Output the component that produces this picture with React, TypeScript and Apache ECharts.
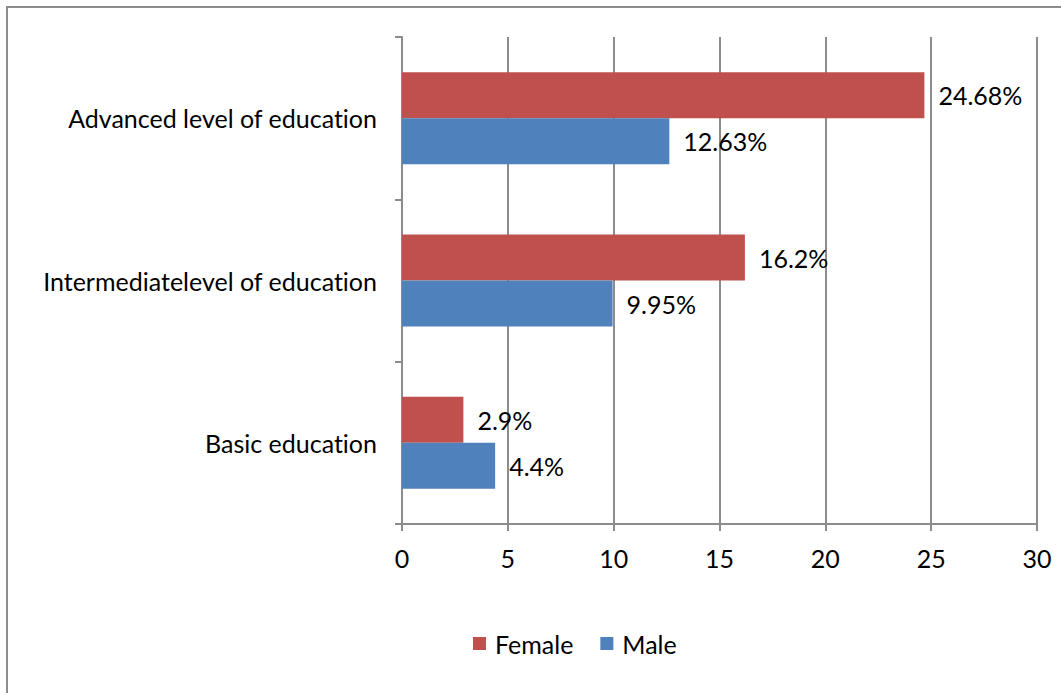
import React, { useEffect, useRef } from "react";
import * as echarts from "echarts";

const categories = ["Basic education", "Intermediatelevel of education", "Advanced level of education"];
const femaleValues = [2.9, 16.2, 24.68];
const maleValues = [4.4, 9.95, 12.63];
const xTicks = { min: 0, max: 30, interval: 5 };

const FONT = "Lato";
const FS = 25;
const GRAY = "#8c8c8c";

export default function App() {
  const ref = useRef<HTMLDivElement>(null);
  useEffect(() => {
    document.body.style.margin = "0";
    const st = document.createElement("style");
    st.textContent = "svg text { font-variant-ligatures: none; font-feature-settings: 'liga' 0, 'clig' 0; }";
    document.head.appendChild(st);
    const chart = echarts.init(ref.current!, null, { renderer: "svg" });
    const label = {
      show: true,
      position: "right",
      distance: 14,
      fontFamily: FONT,
      fontSize: FS,
      color: "#000",
      formatter: (p: any) => `${p.value}%`,
    };
    chart.setOption({
      animation: false,
      textStyle: { fontFamily: FONT, color: "#000" },
      graphic: [
        {
          type: "rect",
          shape: { x: 7, y: 7, width: 1200, height: 1200 },
          style: { fill: "none", stroke: GRAY, lineWidth: 2 },
          silent: true,
        },
      ],
      grid: { left: 402, right: 24, top: 37, bottom: 169, containLabel: false },
      legend: {
        data: ["Female", "Male"],
        left: 468,
        top: 626,
        itemWidth: 13,
        itemHeight: 13,
        itemGap: 27,
        icon: "rect",
        textStyle: { fontFamily: FONT, fontSize: FS, color: "#000", padding: [0, 0, 0, 4] },
      },
      xAxis: {
        type: "value",
        min: xTicks.min,
        max: xTicks.max,
        interval: xTicks.interval,
        axisLine: { show: true, lineStyle: { color: GRAY, width: 2 } },
        axisTick: { show: true, length: 7, lineStyle: { color: GRAY, width: 2 } },
        axisLabel: { fontFamily: FONT, fontSize: FS, color: "#000", margin: 21 },
        splitLine: { show: true, lineStyle: { color: GRAY, width: 2 } },
      },
      yAxis: {
        type: "category",
        data: categories,
        axisLine: { show: true, lineStyle: { color: GRAY, width: 2 } },
        axisTick: { show: true, length: 7, lineStyle: { color: GRAY, width: 2 } },
        axisLabel: { fontFamily: FONT, fontSize: FS, color: "#000", margin: 25 },
      },
      series: [
        {
          name: "Female",
          type: "bar",
          data: femaleValues,
          barWidth: 46,
          barGap: "0%",
          itemStyle: { color: "#C0504D" },
          label,
        },
        {
          name: "Male",
          type: "bar",
          data: maleValues,
          barWidth: 46,
          barGap: "0%",
          itemStyle: { color: "#4F81BD" },
          label,
        },
      ],
    });
    return () => {
      chart.dispose();
      st.remove();
    };
  }, []);
  return <div ref={ref} style={{ width: 1061, height: 693 }} />;
}
